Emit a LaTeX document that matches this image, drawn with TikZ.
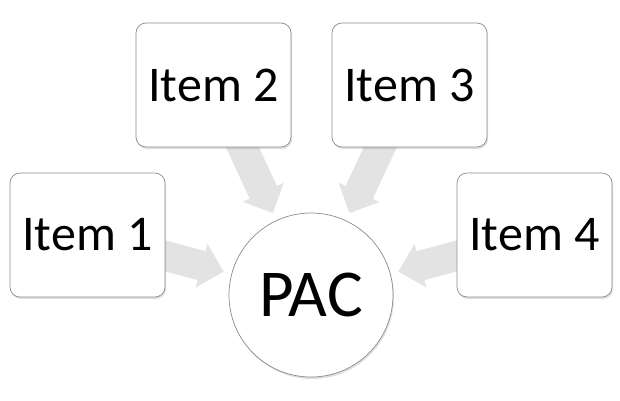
\documentclass[tikz,border=0pt]{standalone}
\usepackage{fontspec}
\setmainfont{Carlito}
\usetikzlibrary{arrows.meta,shadows,backgrounds}

\begin{document}
\begin{tikzpicture}[x=1pt,y=-1pt,
  itembox/.style={draw=black!45, line width=0.7pt, fill=white, rounded corners=10pt,
    minimum width=155pt, minimum height=124pt, font=\fontsize{50}{60}\selectfont,
    drop shadow={opacity=0.25, shadow xshift=1pt, shadow yshift=-2pt}},
  hub/.style={circle, draw=black!45, line width=0.7pt, fill=white, minimum size=164pt,
    font=\fontsize{67}{80}\selectfont,
    drop shadow={opacity=0.25, shadow xshift=1pt, shadow yshift=-2pt}},
  feed/.style={line width=30pt, draw=black!11, -{Triangle[width=44pt,length=23pt]}, shorten >=8pt}]
  \useasboundingbox (0,0) rectangle (620,400);
  \node[hub] (pac) at (311,295) {PAC};
  \node[itembox] (item1) at (87.5,235) {Item 1};
  \node[itembox] (item2) at (213.5,85) {Item 2};
  \node[itembox] (item3) at (409.5,85) {Item 3};
  \node[itembox] (item4) at (534.5,235) {Item 4};
  \begin{scope}[on background layer]
    \foreach \i in {1,...,4}
      \draw[feed] (item\i.center) -- (pac);
  \end{scope}
\end{tikzpicture}
\end{document}
